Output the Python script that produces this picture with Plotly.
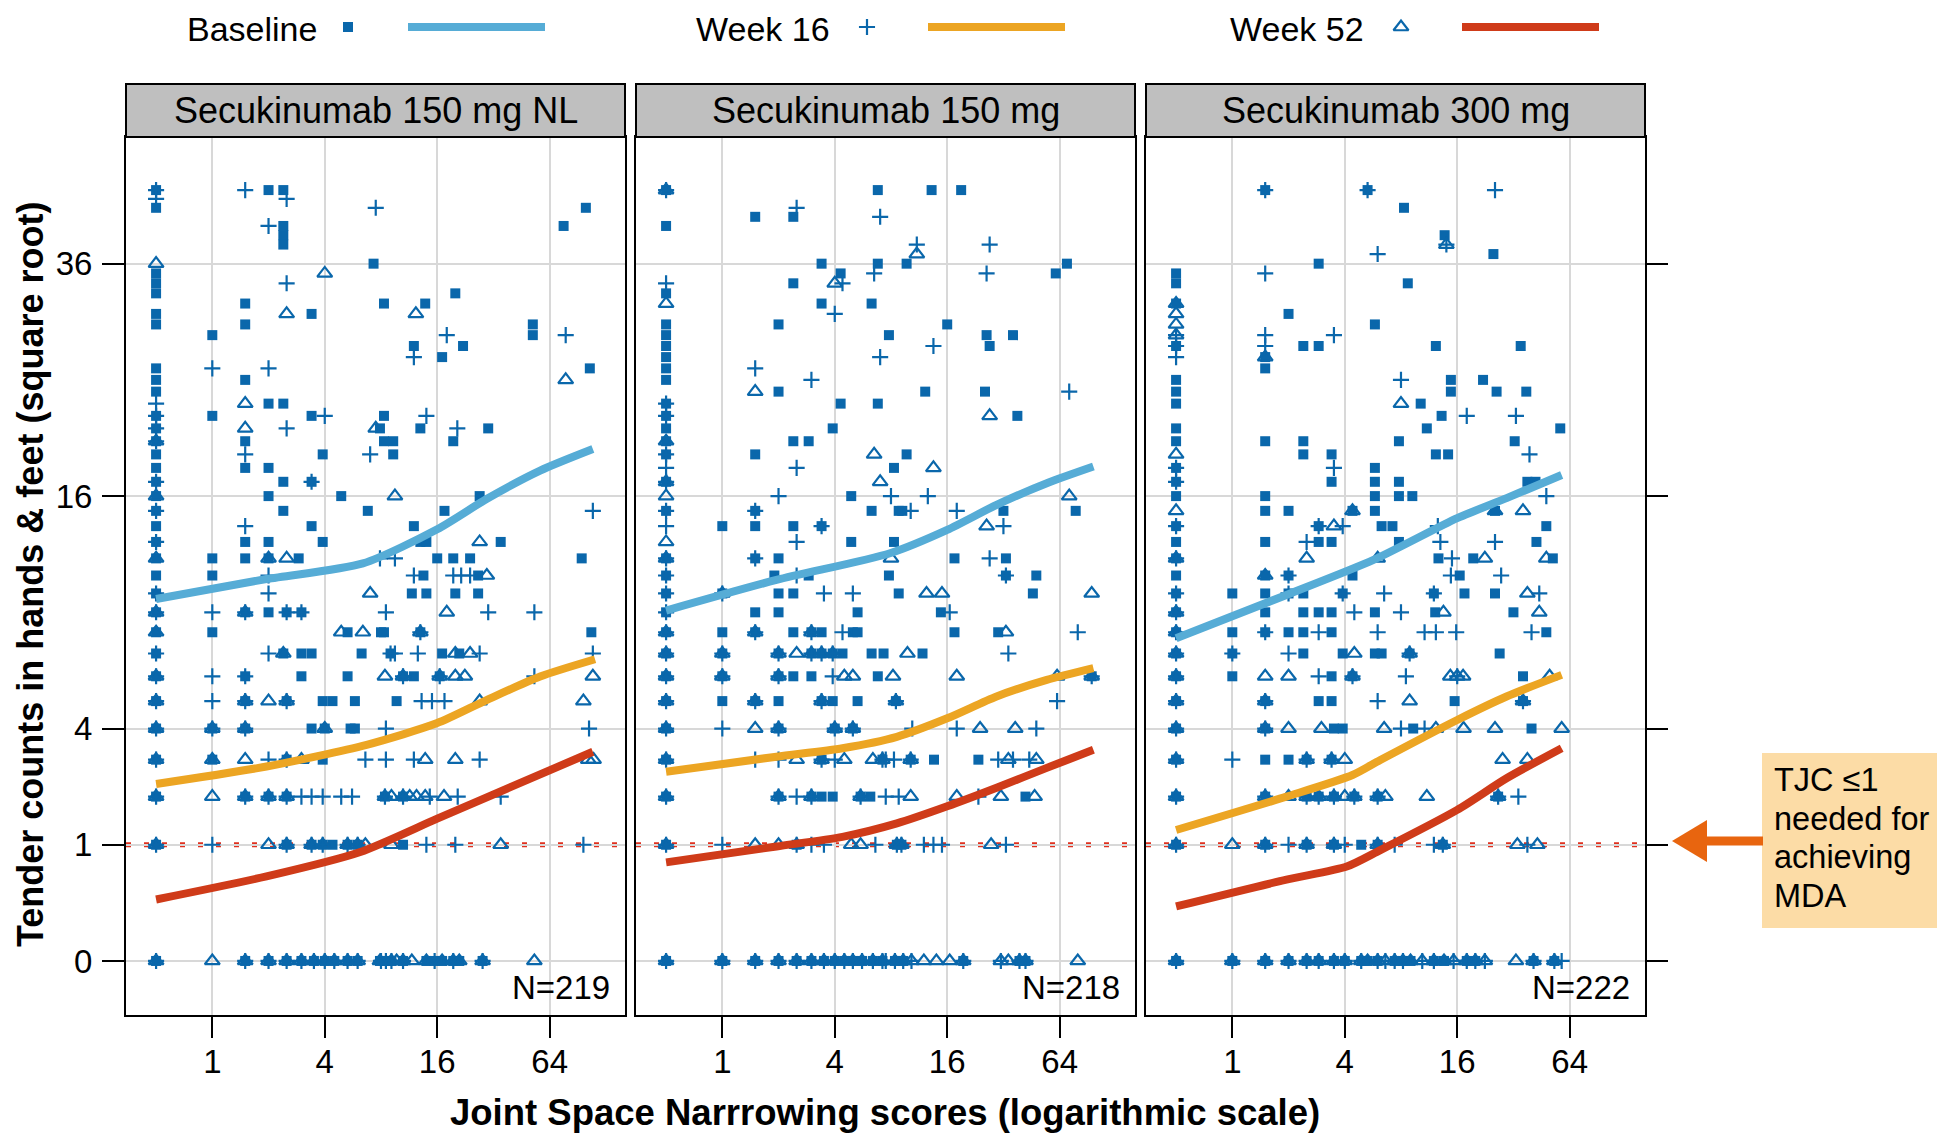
import numpy as np
import plotly.graph_objects as go

# The page body has an 8px default margin, so the figure is sized to fit the
# 1945x1138 window and positions below are given in window pixels.
OFF = 8
W, H = 1945, 1138
FW, FH = W - OFF, H - OFF
FONT = "Liberation Sans, Arial, Helvetica, sans-serif"

PANELS = ["Secukinumab 150 mg NL", "Secukinumab 150 mg", "Secukinumab 300 mg"]
N_LABELS = ["N=219", "N=218", "N=222"]
SERIES = ["Baseline", "Week 16", "Week 52"]
X_TICKS = [1, 4, 16, 64]
Y_TICKS = [0, 1, 4, 16, 36]
MDA_THRESHOLD = 1
ZERO_POS = 0.5  # JSN score 0 is drawn at this position on the log axis

# ---------------- points: (JSN score, tender count) ----------------
P1_BASE_ZERO = [0,1,2,3,4,5,6,7,8,9,10,11,12,13,14,15,16,17,18,19,20,21,22,24,25,26,30,31,33,34,35,42,44]
P1_BASE = [(2,44),(2.4,44),(2.4,40),(2.4,39),(2.4,38),(76,40),(100,42),(7.3,36),(1.5,32),(1.5,30),(3.4,31),(8.3,32),(13.8,32),(20,33),(1,29),(22,28),(12,28),(17,27),(52,30),(52,29),(105,26),(1.5,25),(2,23),(2.4,23),(1,22),(3.4,22),(8.3,22),(7.9,21),(13,21),(30,21),(1.5,20),(8.3,20),(9.3,20),(19.5,20),(3.9,19),(9.3,19),(1.5,18),(2,18),(2.4,17),(3.4,17),(2,16),(4.9,16),(27,16),(2.4,15),(6.8,15),(17.5,15),(3.4,14),(12,14),(1.5,13),(2,13),(3.9,13),(13,13),(14,13),(35,13),(1,12),(1.5,12),(2,12),(2.9,12),(16,12),(19.5,12),(24,12),(95,12),(1,11),(13.5,11),(26.5,11),(11.7,10),(14,10),(20,10),(26.5,10),(1.5,9),(2,9),(2.5,9),(3,9),(1,8),(5.3,8),(8,8),(8.3,8),(13,8),(107,8),(2.4,7),(3,7),(3.4,7),(6.3,7),(9,7),(17,7),(21,7),(1.5,6),(3,6),(5.3,6),(10.5,6),(12,6),(16.5,6),(1.5,5),(2.5,5),(3.9,5),(4.4,5),(5.8,5),(9.7,5),(1,4),(1.5,4),(3.4,4),(4,4),(5.5,4),(5.8,4),(1,3),(2.5,3),(3.9,3),(1.5,2),(2,2),(2.5,2),(8.4,2),(10.5,2),(2.5,1),(3.4,1),(3.9,1),(4.4,1),(5.3,1),(6,1),(10.5,1),(1.5,0),(2,0),(2.5,0),(3,0),(3.5,0),(4,0),(4.5,0),(5.3,0),(6,0),(7.9,0),(8.5,0),(9.1,0),(10.5,0),(14,0),(15.5,0),(17,0),(19.5,0),(21,0),(28,0)]
P1_W16_ZERO = [0,1,2,3,4,5,6,7,9,10,13,15,17,20,21,22,23,43,44]
P1_W16 = [(1.5,44),(2.5,43),(7.5,42),(2,40),(2.5,34),(18,29),(12,27),(78,29),(1,26),(2,26),(4,22),(14,22),(2.5,21),(20.5,21),(1.5,19),(7,19),(3.4,17),(109,15),(1.5,14),(7.9,12),(9.5,12),(2,11),(12,11),(19.5,11),(21.5,11),(24,11),(2,10),(1,9),(1.5,9),(2.5,9),(3,9),(8.5,9),(30,9),(53,9),(13,8),(2,7),(9,7),(9.5,7),(12.6,7),(27,7),(109,7),(1,6),(1.5,6),(10.5,6),(16.5,6),(53,6),(1,5),(1.5,5),(2.5,5),(13.2,5),(15,5),(17.5,5),(1,4),(1.5,4),(8.5,4),(104,4),(2,3),(2.5,3),(6.6,3),(8.5,3),(12,3),(27,3),(1.5,2),(2,2),(2.5,2),(3,2),(3.4,2),(3.9,2),(4.9,2),(5.6,2),(8.4,2),(10.5,2),(14.6,2),(20.6,2),(35,2),(1,1),(2.5,1),(3.4,1),(3.9,1),(5.3,1),(6,1),(14,1),(20,1),(97,1),(1.5,0),(2,0),(2.5,0),(3,0),(3.5,0),(4,0),(4.5,0),(5.3,0),(6,0),(8,0),(8.5,0),(9.1,0),(10.5,0),(15.5,0),(19.5,0),(28,0)]
P1_W52_ZERO = [0,1,2,3,4,5,6,8,9,12,16,20,36]
P1_W52 = [(4,35),(2.5,31),(12.3,31),(78,25),(1.5,23),(1.5,21),(7.5,21),(9.5,16),(27,13),(2,12),(2.5,12),(29.5,11),(7,10),(1.5,9),(18,9),(4.9,8),(6.4,8),(13,8),(2.4,7),(20,7),(24,7),(8.4,6),(10.5,6),(16.5,6),(20,6),(22.5,6),(109,6),(1.5,5),(2,5),(2.5,5),(27,5),(97,5),(1,4),(1.5,4),(4,4),(1,3),(1.5,3),(2.5,3),(3,3),(13.8,3),(20,3),(103,3),(110,3),(1,2),(1.5,2),(2,2),(2.5,2),(8.4,2),(9.1,2),(10.5,2),(11.4,2),(12.4,2),(13.8,2),(17.4,2),(2,1),(2.5,1),(3.4,1),(3.9,1),(5.3,1),(6,1),(6.6,1),(9.1,1),(35,1),(1,0),(1.5,0),(2,0),(2.5,0),(3,0),(3.5,0),(4,0),(4.5,0),(5.3,0),(6,0),(7.9,0),(9.1,0),(9.7,0),(10.5,0),(11.7,0),(14,0),(17,0),(19.5,0),(21,0),(28,0),(53,0)]

P2_BASE_ZERO = [0,1,2,3,4,5,6,7,8,9,10,11,12,15,17,19,20,21,22,23,25,26,27,28,29,30,33,40,44]
P2_BASE = [(1.5,41),(2.4,41),(6.8,44),(13.2,44),(19,44),(3.4,36),(6.8,36),(9.7,36),(4.3,35),(61,35),(70,36),(2.4,34),(3.4,32),(6.3,32),(2,30),(16,30),(7.8,29),(26,29),(36,29),(27,28),(2,24),(12.2,24),(25.5,24),(4.3,23),(6.8,23),(38,22),(3.9,21),(2.4,20),(2.9,20),(1.5,19),(9.7,19),(8.3,18),(4.9,16),(1.5,15),(6.3,15),(8.8,15),(9.2,15),(32,15),(78,15),(1,14),(1.5,14),(2.4,14),(3.4,14),(4.9,13),(8.3,13),(1.5,12),(2,12),(17.5,12),(33,12),(1.9,11),(2.9,11),(7.8,11),(33,11),(48,11),(1,10),(2,10),(2.4,10),(8.8,10),(46,10),(1.5,9),(2,9),(5.3,9),(14.8,9),(1,8),(1.5,8),(2.4,8),(3,8),(3.4,8),(5,8),(5.3,8),(17.5,8),(30,8),(1,7),(2,7),(3,7),(3.4,7),(3.9,7),(4.4,7),(6.3,7),(7.3,7),(11.8,7),(1,6),(2,6),(2.4,6),(3,6),(6.8,6),(95,6),(1,5),(1.5,5),(2,5),(3.4,5),(3.9,5),(5.3,5),(8.5,5),(2,4),(4,4),(5,4),(3.4,3),(7.2,3),(10.2,3),(13.6,3),(23.5,3),(2,2),(3,2),(3.4,2),(3.9,2),(5.5,2),(6.2,2),(42,2),(2.5,1),(8.6,1),(9.1,1),(1,0),(1.5,0),(2,0),(2.5,0),(3,0),(3.5,0),(4,0),(4.5,0),(5,0),(5.6,0),(6.4,0),(7.2,0),(8.4,0),(9.3,0),(19.5,0),(39,0),(42,0)]
P2_W16_ZERO = [0,1,2,3,4,5,6,7,8,9,10,11,12,14,15,17,18,19,22,23,34,44]
P2_W16 = [(2.5,42),(7,41),(11,38),(27,38),(6.5,35),(26,35),(4.4,34),(4,31),(13.5,28),(7,27),(1.5,26),(3,25),(72,24),(2.5,18),(2,16),(8,16),(12.6,16),(1.5,15),(10.2,15),(18,15),(3.4,14),(32,14),(2.5,13),(1.5,12),(27,12),(2.5,11),(33,11),(1,10),(3.5,10),(5,10),(16.5,9),(1.5,8),(3,8),(4.4,8),(80,8),(1,7),(2,7),(3,7),(3.4,7),(3.9,7),(34,7),(1,6),(2,6),(3.9,6),(95,6),(1.5,5),(3.4,5),(8.5,5),(62,5),(1,4),(2,4),(4,4),(5,4),(10.4,4),(18,4),(48,4),(1.5,3),(2,3),(3.4,3),(4,3),(7.2,3),(7.5,3),(8.3,3),(10.2,3),(30,3),(36,3),(44,3),(2,2),(2.5,2),(3,2),(5.5,2),(7.5,2),(8.8,2),(23.5,2),(1,1),(2.5,1),(3,1),(3.5,1),(6.6,1),(8.6,1),(9.1,1),(12,1),(13.5,1),(15,1),(33,1),(1,0),(1.5,0),(2,0),(2.5,0),(3,0),(3.5,0),(4,0),(4.5,0),(5,0),(5.6,0),(6.4,0),(7.2,0),(7.5,0),(8.4,0),(9.3,0),(10.3,0),(19.5,0),(31,0),(39,0),(42,0)]
P2_W52_ZERO = [0,1,2,3,4,5,6,7,8,12,13,16,17,20,32,44]
P2_W52 = [(11,37),(4,34),(27,22),(1.5,24),(6.5,19),(13.5,18),(7,17),(72,16),(26,14),(8,12),(1,10),(12.4,10),(15,10),(95,10),(1.5,8),(3,8),(33,8),(1,7),(2,7),(2.5,7),(3,7),(3.4,7),(3.9,7),(9.8,7),(1,6),(2,6),(4.5,6),(5,6),(8.2,6),(18,6),(62,6),(95,6),(1.5,5),(3.4,5),(8.5,5),(1.5,4),(2,4),(4,4),(5,4),(24,4),(37,4),(2.5,3),(3.4,3),(4.5,3),(6.4,3),(7.2,3),(10.2,3),(34,3),(48,3),(2,2),(3,2),(5.5,2),(10.2,2),(18,2),(31,2),(47,2),(1.5,1),(2,1),(2.5,1),(4.9,1),(5.5,1),(8.6,1),(9.1,1),(27.5,1),(1,0),(1.5,0),(2,0),(2.5,0),(3,0),(3.5,0),(4,0),(4.5,0),(5,0),(5.6,0),(6.4,0),(7.2,0),(8.4,0),(9.3,0),(10.3,0),(12,0),(14,0),(16.5,0),(19.5,0),(31,0),(34,0),(39,0),(42,0),(80,0)]

P3_BASE_ZERO = [0,1,2,3,4,5,6,7,8,9,10,11,12,13,14,16,17,18,20,21,23,24,25,28,32,34,35]
P3_BASE = [(1.5,44),(5.3,44),(8.3,42),(13.7,39),(25,37),(2.9,36),(8.7,34),(2,31),(1.5,27),(1.5,26),(2.4,28),(2.9,28),(5.8,30),(12.3,28),(35,28),(14.8,25),(14.8,24),(22,25),(26,24),(37.5,24),(10.2,23),(13.2,22),(11,21),(57,21),(1.5,20),(2.4,20),(7.8,20),(32.5,20),(2.4,19),(3.4,19),(12.3,19),(14.3,19),(5.8,18),(3.4,17),(5.8,17),(7.8,17),(38,17),(42,17),(1.5,16),(5.8,16),(7.8,16),(9.2,16),(1.5,15),(2,15),(4.4,15),(5.8,15),(25.5,15),(2.9,14),(6.3,14),(7.2,14),(48,14),(1.5,13),(2.9,13),(3.4,13),(7.8,13),(42.5,13),(12.7,12),(19.5,12),(52,12),(1.5,11),(2,11),(4.4,11),(16.5,11),(1,10),(1.5,10),(2,10),(2.4,10),(3.9,10),(12,10),(17.5,10),(25.5,10),(1.5,9),(2.4,9),(2.9,9),(3.4,9),(5.8,9),(12.2,9),(32,9),(1,8),(1.5,8),(2,8),(2.4,8),(3.4,8),(48,8),(1,7),(2.4,7),(3.9,7),(5.8,7),(6.3,7),(8.9,7),(27,7),(1,6),(3.4,6),(4.4,6),(36,6),(1.5,5),(2.9,5),(3.4,5),(15.5,5),(36,5),(1.5,4),(3.5,4),(3.9,4),(9.3,4),(40,4),(1.5,3),(2,3),(2.5,3),(3.4,3),(1.5,2),(2.5,2),(2.9,2),(3.5,2),(4.5,2),(6,2),(26.5,2),(1.5,1),(2.5,1),(3.5,1),(4.9,1),(6,1),(13.4,1),(1,0),(1.5,0),(2,0),(2.5,0),(2.9,0),(3.5,0),(4,0),(4.9,0),(5.3,0),(6,0),(7.4,0),(8.2,0),(9,0),(12,0),(13.6,0),(18,0),(20,0),(41,0),(53,0)]
P3_W16_ZERO = [0,1,2,3,4,5,6,7,8,9,10,12,14,17,18,27,28,29]
P3_W16 = [(1.5,44),(5.3,44),(25.5,44),(14,38),(6,37),(1.5,35),(1.5,29),(1.5,28),(3.5,29),(8,25),(18,22),(33,22),(39,19),(3.5,18),(48,16),(2.9,14),(3.9,14),(12.6,14),(2.5,13),(13,13),(25.5,13),(15,12),(2,11),(14.8,11),(27.5,11),(2,10),(3.9,10),(6.5,10),(12,10),(44,10),(4.5,9),(8,9),(1.5,8),(2.9,8),(6,8),(10.7,8),(12.3,8),(15.8,8),(40,8),(1,7),(2,7),(8.9,7),(2.9,6),(4.4,6),(8.5,6),(16,6),(1.5,5),(6,5),(36,5),(1.5,4),(8,4),(10.7,4),(1,3),(2.5,3),(3.4,3),(1.5,2),(2.5,2),(2.9,2),(3.5,2),(4.5,2),(6,2),(26.5,2),(34,2),(1.5,1),(2,1),(2.5,1),(3.5,1),(4,1),(6,1),(7.4,1),(12,1),(13.4,1),(38,1),(1,0),(1.5,0),(2,0),(2.5,0),(2.9,0),(3.5,0),(4,0),(4.9,0),(6,0),(6.6,0),(7.4,0),(8.2,0),(10.4,0),(12,0),(15.3,0),(18,0),(20,0),(22.5,0),(41,0),(53,0),(58,0)]
P3_W52_ZERO = [0,1,2,3,4,5,6,7,8,9,12,15,19,29,30,31,32]
P3_W52 = [(14,38),(1.5,27),(8,23),(4.4,15),(25.5,15),(36,15),(3.5,14),(2.5,12),(6,12),(22.5,12),(48,12),(1.5,11),(38,10),(13.5,9),(44,9),(4.5,7),(8.9,7),(1.5,6),(2,6),(4.4,6),(14.7,6),(16,6),(17.2,6),(50,6),(1.5,5),(8.9,5),(36,5),(1.5,4),(2,4),(3,4),(6.5,4),(12.3,4),(17.3,4),(25.5,4),(58,4),(2.5,3),(3.4,3),(4,3),(28,3),(38,3),(1.5,2),(2,2),(2.5,2),(2.9,2),(3.5,2),(4,2),(4.5,2),(6,2),(6.6,2),(11,2),(26.5,2),(1,1),(1.5,1),(2.5,1),(3.5,1),(6,1),(13.4,1),(33.6,1),(43,1),(1,0),(1.5,0),(2,0),(2.5,0),(2.9,0),(3.5,0),(4,0),(4.9,0),(5.3,0),(6,0),(6.6,0),(7.4,0),(8.2,0),(9,0),(10.4,0),(12,0),(13.6,0),(15.3,0),(18,0),(20,0),(22.5,0),(33,0),(41,0),(53,0)]

# ---------------- smoothed curves (JSN score, tender count) ----------------
P1_BASE_FIT_X = [0, 1.95, 6.4, 16, 29.4, 56.9, 109]
P1_BASE_FIT_Y = [9.7, 10.8, 11.7, 13.8, 15.8, 17.8, 19.4]
P1_W16_FIT_X = [0, 1.95, 6.7, 16, 29.4, 56.9, 112]
P1_W16_FIT_Y = [2.32, 2.80, 3.46, 4.19, 5.04, 5.99, 6.74]
P1_W52_FIT_X = [0, 1.95, 6.2, 16, 40, 109]
P1_W52_FIT_Y = [0.28, 0.53, 0.88, 1.50, 2.25, 3.24]
P2_BASE_FIT_X = [0, 1.95, 7.9, 16, 29.4, 54.6, 97]
P2_BASE_FIT_Y = [9.09, 10.75, 12.31, 13.76, 15.40, 16.90, 18.10]
P2_W16_FIT_X = [0, 1.95, 4.4, 8.6, 16, 29.4, 54.6, 97]
P2_W16_FIT_Y = [2.65, 3.09, 3.35, 3.72, 4.36, 5.18, 5.85, 6.35]
P2_W52_FIT_X = [0, 1.95, 4.4, 8.6, 16, 29.4, 54.6, 97]
P2_W52_FIT_Y = [0.72, 0.97, 1.14, 1.40, 1.77, 2.22, 2.76, 3.30]
P3_BASE_FIT_X = [0, 1.95, 5.7, 16, 29.4, 58]
P3_BASE_FIT_Y = [7.71, 9.92, 11.91, 14.52, 15.86, 17.49]
P3_W16_FIT_X = [0, 1.95, 4.4, 6.2, 16, 29.4, 58]
P3_W16_FIT_Y = [1.27, 2.0, 2.56, 2.99, 4.30, 5.18, 6.06]
P3_W52_FIT_X = [0, 1.95, 4.1, 6.2, 16, 29.4, 58]
P3_W52_FIT_Y = [0.22, 0.49, 0.66, 0.91, 1.69, 2.47, 3.35]

# ---------------- styling ----------------
MARKER_COLOR = "#0A67AB"
LINE_COLORS = ["#56ACD6", "#ECA523", "#CF3B19"]
GRID = "#D8D8D8"
STRIP_FILL = "#BFBFBF"
MDA_RED = "#E0301E"
ARROW = "#E8650F"
BOX_FILL = "#FCDCA6"
SYMBOLS = [dict(symbol="square", size=10),
           dict(symbol="cross-thin", size=11.5, line=dict(width=2.2, color=MARKER_COLOR)),
           dict(symbol="triangle-up-open", size=13, line=dict(width=2.2, color=MARKER_COLOR))]

# layout geometry (window pixels)
PANEL_X = [(126, 625), (636, 1135), (1146, 1645)]
PLOT_TOP, PLOT_BOT, STRIP_TOP = 137, 1015, 84
X_RANGE_LOG2 = (-1.535, 7.34)
Y_RANGE = (-0.465, 7.09)


def px(x):
    return (x - OFF) / FW


def py(y):
    return 1 - (y - OFF) / FH


def disp_x(vals):
    return [ZERO_POS if v == 0 else v for v in vals]


points = [
    [(P1_BASE_ZERO, P1_BASE), (P1_W16_ZERO, P1_W16), (P1_W52_ZERO, P1_W52)],
    [(P2_BASE_ZERO, P2_BASE), (P2_W16_ZERO, P2_W16), (P2_W52_ZERO, P2_W52)],
    [(P3_BASE_ZERO, P3_BASE), (P3_W16_ZERO, P3_W16), (P3_W52_ZERO, P3_W52)],
]
fits = [
    [(P1_BASE_FIT_X, P1_BASE_FIT_Y), (P1_W16_FIT_X, P1_W16_FIT_Y), (P1_W52_FIT_X, P1_W52_FIT_Y)],
    [(P2_BASE_FIT_X, P2_BASE_FIT_Y), (P2_W16_FIT_X, P2_W16_FIT_Y), (P2_W52_FIT_X, P2_W52_FIT_Y)],
    [(P3_BASE_FIT_X, P3_BASE_FIT_Y), (P3_W16_FIT_X, P3_W16_FIT_Y), (P3_W52_FIT_X, P3_W52_FIT_Y)],
]

fig = go.Figure()
shapes, annotations = [], []
layout = {}
xr = [X_RANGE_LOG2[0] * np.log10(2), X_RANGE_LOG2[1] * np.log10(2)]

for p in range(3):
    s = "" if p == 0 else str(p + 1)
    xa, ya = "x" + s, "y" + s
    for k in range(3):
        zero, pairs = points[p][k]
        xv = [0] * len(zero) + [a for a, _ in pairs]
        yv = list(zero) + [b for _, b in pairs]
        fig.add_trace(go.Scatter(
            x=disp_x(xv), y=np.sqrt(np.asarray(yv, float)).tolist(), mode="markers",
            marker=dict(color=MARKER_COLOR, **SYMBOLS[k]),
            xaxis=xa, yaxis=ya, showlegend=False, hoverinfo="skip"))
    for k in range(3):
        fx, fy = fits[p][k]
        fig.add_trace(go.Scatter(
            x=disp_x(fx), y=np.sqrt(np.asarray(fy, float)).tolist(), mode="lines",
            line=dict(color=LINE_COLORS[k], width=8, shape="spline", smoothing=0.7),
            xaxis=xa, yaxis=ya, showlegend=False, hoverinfo="skip"))

    x0, x1 = PANEL_X[p]
    layout["xaxis" + s] = dict(
        type="log", domain=[px(x0), px(x1)], range=xr, anchor=ya,
        tickvals=X_TICKS, ticktext=[str(t) for t in X_TICKS],
        ticks="outside", ticklen=21, tickwidth=2, tickcolor="black",
        ticklabelstandoff=-5,
        showline=True, mirror=True, linecolor="black", linewidth=2,
        showgrid=True, gridcolor=GRID, gridwidth=2, zeroline=False,
        tickfont=dict(family=FONT, size=33, color="black"))
    yax = dict(
        domain=[py(PLOT_BOT), py(PLOT_TOP)], range=list(Y_RANGE), anchor=xa,
        tickvals=[float(v) for v in np.sqrt(Y_TICKS)], ticktext=[str(t) for t in Y_TICKS],
        showline=True, mirror=True, linecolor="black", linewidth=2,
        showgrid=True, gridcolor=GRID, gridwidth=2, zeroline=False,
        tickfont=dict(family=FONT, size=33, color="black"))
    if p == 0:
        yax.update(ticks="outside", ticklen=22, tickwidth=2, tickcolor="black",
                   showticklabels=True, ticklabelstandoff=3)
    elif p == 1:
        yax.update(ticks="", showticklabels=False)
    else:
        yax.update(side="right", ticks="outside", ticklen=21, tickwidth=2,
                   tickcolor="black", showticklabels=False)
    layout["yaxis" + s] = yax

    shapes.append(dict(type="line", xref=xa + " domain", x0=0, x1=1, yref=ya,
                       y0=float(np.sqrt(MDA_THRESHOLD)), y1=float(np.sqrt(MDA_THRESHOLD)),
                       line=dict(color=MDA_RED, width=5, dash="5px,13px"), layer="below"))
    shapes.append(dict(type="rect", xref="paper", yref="paper",
                       x0=px(x0), x1=px(x1), y0=py(PLOT_TOP), y1=py(STRIP_TOP),
                       fillcolor=STRIP_FILL, line=dict(color="black", width=2)))
    annotations.append(dict(text=PANELS[p], xref="paper", yref="paper",
                            x=px((x0 + x1) / 2), y=py((STRIP_TOP + PLOT_TOP) / 2),
                            xanchor="center", yanchor="middle", showarrow=False,
                            font=dict(family=FONT, size=36, color="black")))
    annotations.append(dict(text=N_LABELS[p], xref="paper", yref="paper",
                            x=px(x1 - 13), y=py(987),
                            xanchor="right", yanchor="middle", showarrow=False,
                            font=dict(family=FONT, size=33, color="black")))

# ---------------- legend (top) ----------------
LEG_TEXT_X = [185, 694, 1228]
LEG_MARK_X = [348, 867, 1401]
LEG_LINE_X = [(408, 545), (928, 1065), (1462, 1599)]
LEG_Y = 27
LEG_BAND = 50
layout["xaxis4"] = dict(domain=[0, 1], range=[OFF, W], visible=False, fixedrange=True, anchor="y4")
layout["yaxis4"] = dict(domain=[py(LEG_BAND), 1], range=[LEG_BAND, OFF], visible=False,
                        fixedrange=True, anchor="x4")
for k in range(3):
    annotations.append(dict(text=SERIES[k], xref="paper", yref="paper",
                            x=px(LEG_TEXT_X[k]), y=py(LEG_Y + 2), xanchor="left", yanchor="middle",
                            showarrow=False, font=dict(family=FONT, size=34, color="black")))
    fig.add_trace(go.Scatter(x=[LEG_MARK_X[k]], y=[LEG_Y], mode="markers",
                             marker=dict(color=MARKER_COLOR, **SYMBOLS[k]),
                             xaxis="x4", yaxis="y4", showlegend=False, hoverinfo="skip"))
    shapes.append(dict(type="line", xref="paper", yref="paper",
                       x0=px(LEG_LINE_X[k][0]), x1=px(LEG_LINE_X[k][1]),
                       y0=py(LEG_Y), y1=py(LEG_Y),
                       line=dict(color=LINE_COLORS[k], width=8)))

# ---------------- axis titles ----------------
annotations.append(dict(text="<b>Joint Space Narrrowing scores (logarithmic scale)</b>",
                        xref="paper", yref="paper", x=px(885), y=py(1112),
                        xanchor="center", yanchor="middle", showarrow=False,
                        font=dict(family=FONT, size=36.5, color="black")))
annotations.append(dict(text="<b>Tender counts in hands &amp; feet (square root)</b>",
                        xref="paper", yref="paper", x=px(30), y=py(575), textangle=-90,
                        xanchor="center", yanchor="middle", showarrow=False,
                        font=dict(family=FONT, size=36, color="black")))

# ---------------- MDA call-out ----------------
shapes.append(dict(type="rect", xref="paper", yref="paper",
                   x0=px(1762), x1=px(1950), y0=py(928), y1=py(753),
                   fillcolor=BOX_FILL, line=dict(width=0)))
shapes.append(dict(type="line", xref="paper", yref="paper",
                   x0=px(1700), x1=px(1763), y0=py(841), y1=py(841),
                   line=dict(color=ARROW, width=9)))
shapes.append(dict(type="path", xref="paper", yref="paper",
                   path=f"M {px(1672)},{py(841)} L {px(1707)},{py(820)} L {px(1707)},{py(862)} Z",
                   fillcolor=ARROW, line=dict(width=0)))
CALLOUT = ["TJC ≤1", "needed for", "achieving", "MDA"]
CALLOUT_Y = [779.5, 819, 857, 896]
for t, yy in zip(CALLOUT, CALLOUT_Y):
    annotations.append(dict(text=t, xref="paper", yref="paper", x=px(1772), y=py(yy),
                            xanchor="left", yanchor="middle", showarrow=False,
                            font=dict(family=FONT, size=32.5, color="black")))

fig.update_layout(
    width=FW, height=FH, margin=dict(l=0, r=0, t=0, b=0),
    paper_bgcolor="white", plot_bgcolor="rgba(0,0,0,0)",
    shapes=shapes, annotations=annotations, showlegend=False,
    font=dict(family=FONT, color="black"),
    **layout)

fig.write_html("out.html")
